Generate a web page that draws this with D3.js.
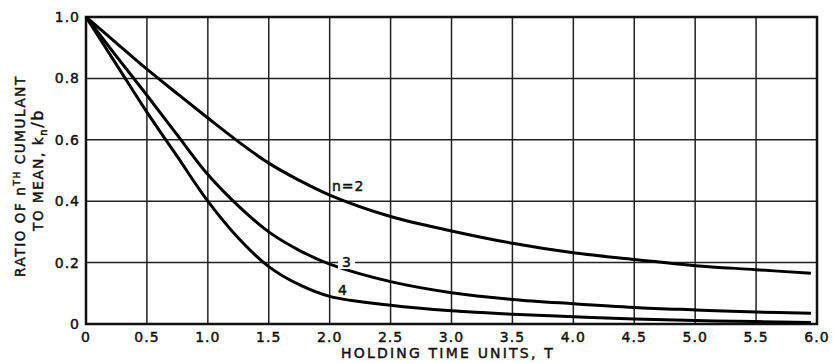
<!DOCTYPE html>
<html>
<head>
<meta charset="utf-8">
<script src="https://cdn.jsdelivr.net/npm/d3@7"></script>
<style>
  body { margin: 0; background: #fff; }
  text { font-family: "DejaVu Sans", sans-serif; fill: #111; stroke: #111; stroke-width: 0.45px; }
</style>
</head>
<body>
<div id="chart"></div>
<script>
// holding time values
var holdingTime = [0, 0.25, 0.5, 0.75, 1.0, 1.25, 1.5, 1.75, 2.0, 2.5, 3.0, 3.5, 4.0, 4.5, 5.0, 5.5, 5.95];
var ratioN2 = [1.0, 0.915, 0.83, 0.75, 0.671, 0.594, 0.524, 0.468, 0.42, 0.35, 0.303, 0.263, 0.232, 0.21, 0.19, 0.177, 0.165];
var ratioN3 = [1.0, 0.872, 0.745, 0.615, 0.487, 0.385, 0.30, 0.24, 0.195, 0.138, 0.102, 0.08, 0.066, 0.054, 0.046, 0.039, 0.035];
var ratioN4 = [1.0, 0.845, 0.69, 0.545, 0.40, 0.28, 0.187, 0.128, 0.09, 0.061, 0.043, 0.032, 0.024, 0.016, 0.011, 0.008, 0.005];
var xTicks = [0, 0.5, 1.0, 1.5, 2.0, 2.5, 3.0, 3.5, 4.0, 4.5, 5.0, 5.5, 6.0];
var yTicks = [0, 0.2, 0.4, 0.6, 0.8, 1.0];

var width = 833,
  height = 363;

var svg = d3.select("#chart")
  .append("svg")
  .attr("width", width)
  .attr("height", height);

// scales
var x = d3.scaleLinear().domain([0, 6]).range([86, 817]);
var y = d3.scaleLinear().domain([0, 1]).range([324, 17]);

// grid lines
svg.selectAll(".vgrid")
  .data(xTicks)
  .enter()
  .append("line")
  .attr("x1", d => x(d)).attr("x2", d => x(d))
  .attr("y1", y(0)).attr("y2", y(1))
  .style("stroke", "#222")
  .style("stroke-width", 1.5);

svg.selectAll(".hgrid")
  .data(yTicks)
  .enter()
  .append("line")
  .attr("x1", x(0)).attr("x2", x(6))
  .attr("y1", d => y(d)).attr("y2", d => y(d))
  .style("stroke", "#222")
  .style("stroke-width", 1.5);

// frame
svg.append("rect")
  .attr("x", x(0)).attr("y", y(1))
  .attr("width", x(6) - x(0)).attr("height", y(0) - y(1))
  .style("fill", "none")
  .style("stroke", "#111")
  .style("stroke-width", 2.5);

// tick labels
svg.selectAll(".xlab")
  .data(xTicks)
  .enter()
  .append("text")
  .attr("x", d => x(d))
  .attr("y", 342)
  .attr("text-anchor", "middle")
  .style("font-size", "14px")
  .style("letter-spacing", "1px")
  .text(d => d === 0 ? "0" : d.toFixed(1));

svg.selectAll(".ylab")
  .data(yTicks)
  .enter()
  .append("text")
  .attr("x", 80)
  .attr("y", d => y(d) + 5)
  .attr("text-anchor", "end")
  .style("font-size", "14px")
  .style("letter-spacing", "1px")
  .text(d => d === 0 ? "0" : d.toFixed(1));

// axis titles
svg.append("text")
  .attr("x", 448)
  .attr("y", 358)
  .attr("text-anchor", "middle")
  .style("font-size", "14px")
  .style("letter-spacing", "2.2px")
  .text("HOLDING TIME UNITS, T");

var t1 = svg.append("text")
  .attr("transform", "translate(25,176) rotate(-90)")
  .attr("text-anchor", "middle")
  .style("font-size", "13.5px")
  .style("letter-spacing", "1.6px");
t1.append("tspan").text("RATIO OF n");
t1.append("tspan").attr("dy", -5).style("font-size", "9px").text("TH");
t1.append("tspan").attr("dy", 5).text(" CUMULANT");

var t2 = svg.append("text")
  .attr("transform", "translate(43,170) rotate(-90)")
  .attr("text-anchor", "middle")
  .style("font-size", "13.5px")
  .style("letter-spacing", "1.6px");
t2.append("tspan").text("TO MEAN, k");
t2.append("tspan").attr("dy", 4).style("font-size", "10px").text("n");
t2.append("tspan").attr("dy", -4).style("font-size", "16px").text("/b");

// curves
var series = [ratioN2, ratioN3, ratioN4];
var line = d3.line()
  .x((d, i) => x(holdingTime[i]))
  .y(d => y(d))
  .curve(d3.curveCatmullRom.alpha(0.5));

svg.selectAll(".curve")
  .data(series)
  .enter()
  .append("path")
  .attr("d", line)
  .style("fill", "none")
  .style("stroke", "#000")
  .style("stroke-width", 3);

// curve labels
svg.append("text")
  .attr("x", 332).attr("y", 191)
  .style("font-size", "14px")
  .style("letter-spacing", "1px")
  .text("n=2");

svg.append("rect")
  .attr("x", 338).attr("y", 255)
  .attr("width", 17).attr("height", 14)
  .style("fill", "#fff");
svg.append("text")
  .attr("x", 342).attr("y", 267)
  .style("font-size", "14px")
  .text("3");

svg.append("text")
  .attr("x", 338).attr("y", 295)
  .style("font-size", "14px")
  .text("4");
</script>
</body>
</html>
